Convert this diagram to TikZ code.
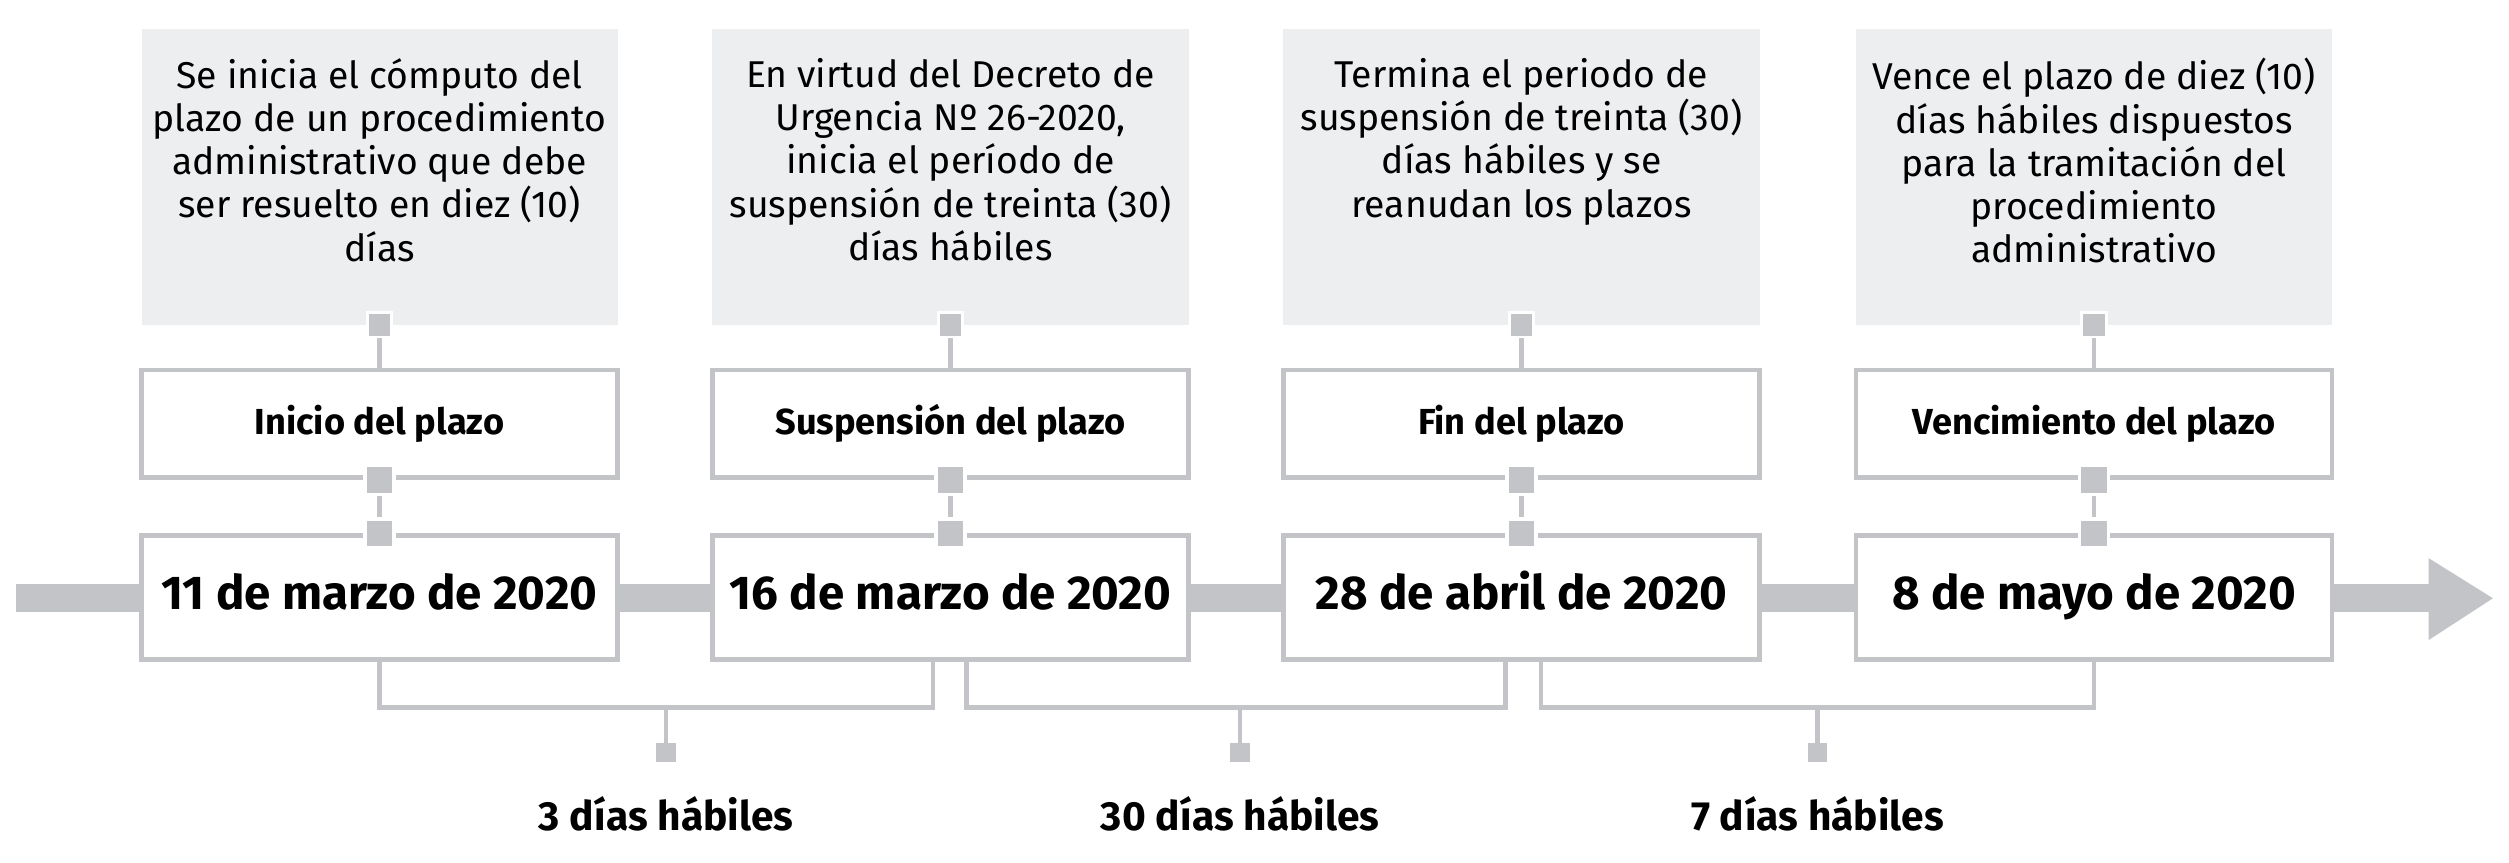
\documentclass[tikz,border=0pt]{standalone}
\usepackage{fontspec}
\setmainfont{Fira Sans}
\usetikzlibrary{positioning}
\definecolor{linegray}{HTML}{C2C4C7}
\definecolor{boxgray}{HTML}{EDEEEF}
\tikzset{
  stage/.style={draw=linegray, line width=2pt, fill=white, minimum width=7.4cm, minimum height=1.675cm,
    font=\fontsize{16}{19}\selectfont\bfseries},
  date/.style={draw=linegray, line width=2pt, fill=white, minimum width=7.4cm, minimum height=1.925cm,
    text height=0.5cm, text depth=0.12cm, font=\fontsize{21}{25}\selectfont\bfseries},
  link/.style={linegray, line width=2pt},
  knob/.style={fill=linegray, draw=white, line width=1.5pt, minimum size=0.45cm, inner sep=0pt},
  tick/.style={fill=linegray, minimum size=0.3cm, inner sep=0pt},
  span/.style={font=\fontsize{18}{21}\selectfont\bfseries}
}
\begin{document}
\begin{tikzpicture}[x=0.025cm,y=-0.025cm]
  \useasboundingbox (0,0) rectangle (1560,536);
  % timeline
  \coordinate (start) at (10,372);
  \coordinate (tip) at (1510,372);
  \draw[linegray, line width=0.43cm] (start) -- (tip);
  \fill[linegray] (1510,347) -- (1550,372) -- (1510,398) -- cycle;

  \foreach \i/\x/\txt/\name/\day in {
      1/236/{Se inicia el cómputo del\\plazo de un procedimiento\\administrativo que debe\\ser resuelto en diez (10)\\días}/{Inicio del plazo}/{11 de marzo de 2020},
      2/591/{En virtud del Decreto de\\Urgencia Nº 26-2020,\\inicia el período de\\suspensión de treinta (30)\\días hábiles}/{Suspensión del plazo}/{16 de marzo de 2020},
      3/946/{Termina el periodo de\\suspensión de treinta (30)\\días hábiles y se\\reanudan los plazos}/{Fin del plazo}/{28 de abril de 2020},
      4/1302/{Vence el plazo de diez (10)\\días hábiles dispuestos\\para la tramitación del\\procedimiento\\administrativo}/{Vencimiento del plazo}/{8 de mayo de 2020}}{
    \fill[boxgray] (\x-148,18) rectangle (\x+148,202);
    \node[align=center, anchor=north, inner sep=0pt,
      font=\fontsize{16.5}{19.1}\selectfont] (g\i) at (\x,36) {\txt};
    \coordinate (gb\i) at (\x,202);
    \node[stage] (t\i) at (\x,263.5) {\name};
    \node[date] (d\i) at (\x,371.5) {\day};
    \draw[link] (gb\i) -- (t\i.north);
    \draw[link] (t\i.south) -- (d\i.north);
    \node[fill=linegray, draw=white, line width=1.2pt, minimum size=0.38cm, inner sep=0pt] at (gb\i) {};
    \node[knob] at (t\i.south) {};
    \node[knob] at (d\i.north) {};
  }

  % durations
  \foreach \j/\a/\b/\m/\lab in {1/236/580/414/{3 días hábiles}, 2/601/936/771/{30 días hábiles}, 3/958/1302/1130/{7 días hábiles}}{
    \coordinate (l\j) at (\a,411);
    \coordinate (r\j) at (\b,411);
    \coordinate (c\j) at (\m,440);
    \node[tick] (s\j) at (\m,468) {};
    \draw[link] (l\j) |- (c\j) -| (r\j);
    \draw[link] (c\j) -- (s\j);
    \node[span] at (\m,506) {\lab};
  }
\end{tikzpicture}
\end{document}
